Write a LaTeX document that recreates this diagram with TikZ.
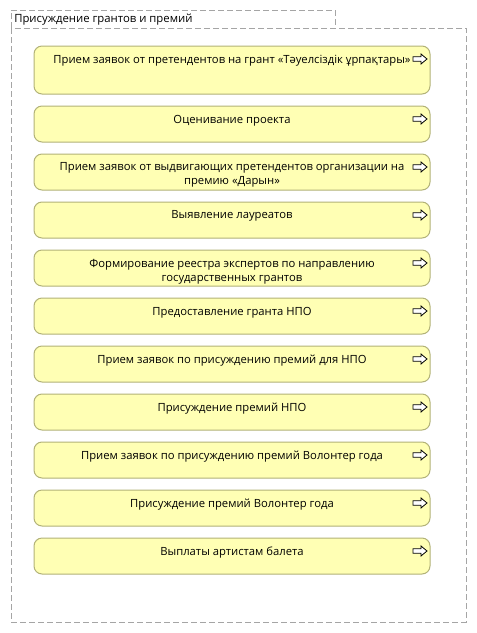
\documentclass[tikz,border=0pt]{standalone}
\usepackage{fontspec}
\setmainfont{Open Sans}
\usetikzlibrary{positioning}
\definecolor{boxfill}{RGB}{255,255,180}
\definecolor{boxdraw}{RGB}{178,178,120}
\definecolor{framegray}{RGB}{165,165,165}
\tikzset{
  frameline/.style={draw=framegray, line width=0.75pt, dash pattern=on 4.5pt off 2.25pt},
  procbox/.style={draw=boxdraw, fill=boxfill, line width=0.75pt, rounded corners=6pt},
  proctext/.style={font=\fontsize{8.45pt}{10.5pt}\selectfont, align=center, anchor=north, inner sep=0pt},
  titletext/.style={font=\fontsize{8.5pt}{10.5pt}\selectfont, anchor=west, inner sep=0pt},
  flowarrow/.style={draw=black, fill=white, line width=0.6pt, line join=miter},
}
\newcommand{\procitem}[4]{%
  % #1 name, #2 top y, #3 bottom y, #4 text
  \path[procbox] (34,#2) rectangle (430,#3);
  \coordinate (#1-top) at (232,#2);
  \node[proctext] (#1) at ([yshift=-6.5]#1-top) {#4};
  \coordinate (#1-arr) at (413,{#2+13});
  \draw[flowarrow] (#1-arr) ++(0,-2.3) -- ++(8,0) -- ++(0,-2.7) -- ++(6,5) -- ++(-6,5) -- ++(0,-2.7) -- ++(-8,0) -- cycle;
}
\begin{document}
\begin{tikzpicture}[x=0.75pt,y=-0.75pt]
\useasboundingbox (0,0) rectangle (477,633);
% frame
\draw[frameline] (11,28) -- (11,10) -- (335,10) -- (335,28);
\draw[frameline] (11,28) rectangle (466,622);
\node[titletext] (title) at (14,19.5) {Присуждение грантов и премий};
% items
\procitem{p1}{46}{94}{Прием заявок от претендентов на грант «Тәуелсіздік ұрпақтары»}
\procitem{p2}{106}{142}{Оценивание проекта}
\procitem{p3}{154}{190}{Прием заявок от выдвигающих претендентов организации на\\премию «Дарын»}
\procitem{p4}{202}{238}{Выявление лауреатов}
\procitem{p5}{250}{286}{Формирование реестра экспертов по направлению\\государственных грантов}
\procitem{p6}{298}{334}{Предоставление гранта НПО}
\procitem{p7}{346}{382}{Прием заявок по присуждению премий для НПО}
\procitem{p8}{394}{430}{Присуждение премий НПО}
\procitem{p9}{442}{478}{Прием заявок по присуждению премий Волонтер года}
\procitem{p10}{490}{526}{Присуждение премий Волонтер года}
\procitem{p11}{538}{574}{Выплаты артистам балета}
\end{tikzpicture}
\end{document}
